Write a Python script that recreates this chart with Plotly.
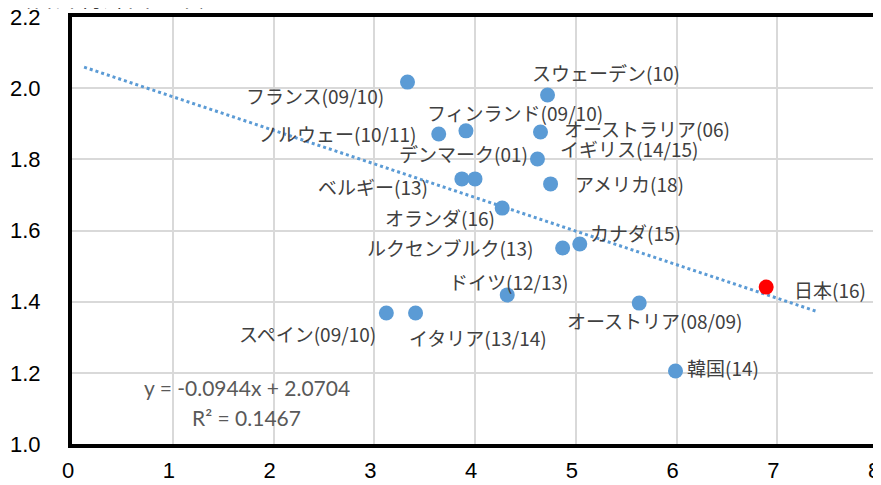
import plotly.graph_objects as go

# ---- data ----
countries = ["フランス(09/10)", "スウェーデン(10)", "ノルウェー(10/11)", "フィンランド(09/10)",
             "オーストラリア(06)", "イギリス(14/15)", "ベルギー(13)", "デンマーク(01)",
             "アメリカ(18)", "オランダ(16)", "ルクセンブルク(13)", "カナダ(15)",
             "ドイツ(12/13)", "スペイン(09/10)", "イタリア(13/14)", "オーストリア(08/09)",
             "韓国(14)", "日本(16)"]
x_vals = [3.33, 4.72, 3.64, 3.91, 4.65, 4.62, 3.87, 4.00, 4.75, 4.27, 4.87, 5.04,
          4.32, 3.12, 3.41, 5.63, 5.99, 6.89]
y_vals = [2.017, 1.981, 1.871, 1.880, 1.877, 1.801, 1.745, 1.745, 1.731, 1.663, 1.551, 1.562,
          1.419, 1.368, 1.368, 1.396, 1.205, 1.441]
highlight = "日本(16)"

trend_slope = -0.0944
trend_intercept = 2.0704
trend_r2 = 0.1467
trend_backward = 3.0
trend_forward = 0.5

x_ticks = [0, 1, 2, 3, 4, 5, 6, 7, 8]
y_ticks = [1.0, 1.2, 1.4, 1.6, 1.8, 2.0, 2.2]
y_title = "（合計特殊出生率）"

# ---- label placement (pixel offsets: anchor, dx, dy(down)) ----
label_pos = {
    "フランス(09/10)": ("right", -22, 13),
    "スウェーデン(10)": ("left", -18, -22),
    "ノルウェー(10/11)": ("right", -21, -1),
    "フィンランド(09/10)": ("left", -41, -18),
    "オーストラリア(06)": ("left", 22, -3),
    "イギリス(14/15)": ("left", 21, -10),
    "ベルギー(13)": ("right", -32, 8),
    "デンマーク(01)": ("left", -78, -25),
    "アメリカ(18)": ("left", 22, 0),
    "オランダ(16)": ("right", -5, 9),
    "ルクセンブルク(13)": ("right", -28, 0),
    "カナダ(15)": ("left", 8, -12),
    "ドイツ(12/13)": ("left", -60, -13),
    "スペイン(09/10)": ("right", -8, 20),
    "イタリア(13/14)": ("left", -9, 24),
    "オーストリア(08/09)": ("left", -74, 17),
    "韓国(14)": ("left", 10, -4),
    "日本(16)": ("left", 26, 2),
}

JP = "Noto Sans CJK JP"
TICKFONT = "Liberation Sans Narrow, Arial Narrow, Liberation Sans, sans-serif"

colors = ["#FF0000" if c == highlight else "#5B9BD5" for c in countries]

fig = go.Figure()

tx0 = min(x_vals) - trend_backward
tx1 = max(x_vals) + trend_forward
fig.add_trace(go.Scatter(
    x=[tx0, tx1],
    y=[trend_slope * tx0 + trend_intercept, trend_slope * tx1 + trend_intercept],
    mode="lines", line=dict(color="#5B9BD5", width=3, dash="dot"),
    hoverinfo="skip", showlegend=False))

fig.add_trace(go.Scatter(
    x=x_vals, y=y_vals, mode="markers",
    marker=dict(size=15, color=colors, line=dict(width=0)),
    text=countries, hoverinfo="text", showlegend=False))

annotations = []
for c, xv, yv in zip(countries, x_vals, y_vals):
    anchor, dx, dy = label_pos[c]
    annotations.append(dict(
        x=xv, y=yv, xref="x", yref="y", text=c, showarrow=False,
        xanchor=anchor, yanchor="middle", xshift=dx, yshift=-dy,
        font=dict(family=JP, size=19, color="#404040")))

eq_text = f"y = {trend_slope:.4f}x + {trend_intercept:.4f}"
r2_text = f"R² = {trend_r2:.4f}"
annotations.append(dict(x=0.217, y=0.133, xref="paper", yref="paper", text=eq_text,
                        showarrow=False, xanchor="center", yanchor="middle",
                        font=dict(family="Lato, Open Sans, sans-serif", size=21, color="#595959")))
annotations.append(dict(x=0.217, y=0.063, xref="paper", yref="paper", text=r2_text,
                        showarrow=False, xanchor="center", yanchor="middle",
                        font=dict(family="Lato, Open Sans, sans-serif", size=21, color="#595959")))
annotations.append(dict(x=0, y=1, xref="paper", yref="paper", text=y_title,
                        showarrow=False, xanchor="left", yanchor="middle",
                        xshift=-67, yshift=22,
                        font=dict(family=JP, size=24, color="#000000")))

# page body adds an 8px offset; figure is sized so the plot lands where the reference has it
fig.update_layout(
    width=873, height=477,
    margin=dict(l=64, r=3, t=9, b=41),
    paper_bgcolor="white", plot_bgcolor="white",
    annotations=annotations,
    xaxis=dict(range=[0, 8], tickvals=x_ticks, ticktext=[str(v) for v in x_ticks],
               showgrid=True, gridcolor="#D9D9D9", gridwidth=2,
               showline=True, linecolor="black", linewidth=4, mirror=True,
               zeroline=False, ticks="", ticklabelstandoff=4, automargin=False,
               ticklabeloverflow="allow", ticklabelshift=-4,
               tickfont=dict(family=TICKFONT, size=22, color="black")),
    yaxis=dict(range=[1.0, 2.2], tickvals=y_ticks, ticktext=[f"{v:.1f}" for v in y_ticks],
               showgrid=True, gridcolor="#D9D9D9", gridwidth=2,
               showline=True, linecolor="black", linewidth=4, mirror=True,
               zeroline=False, ticks="", ticklabelstandoff=23, automargin=False,
               ticklabeloverflow="allow",
               tickfont=dict(family=TICKFONT, size=22, color="black")),
)

fig.write_html("out.html")
